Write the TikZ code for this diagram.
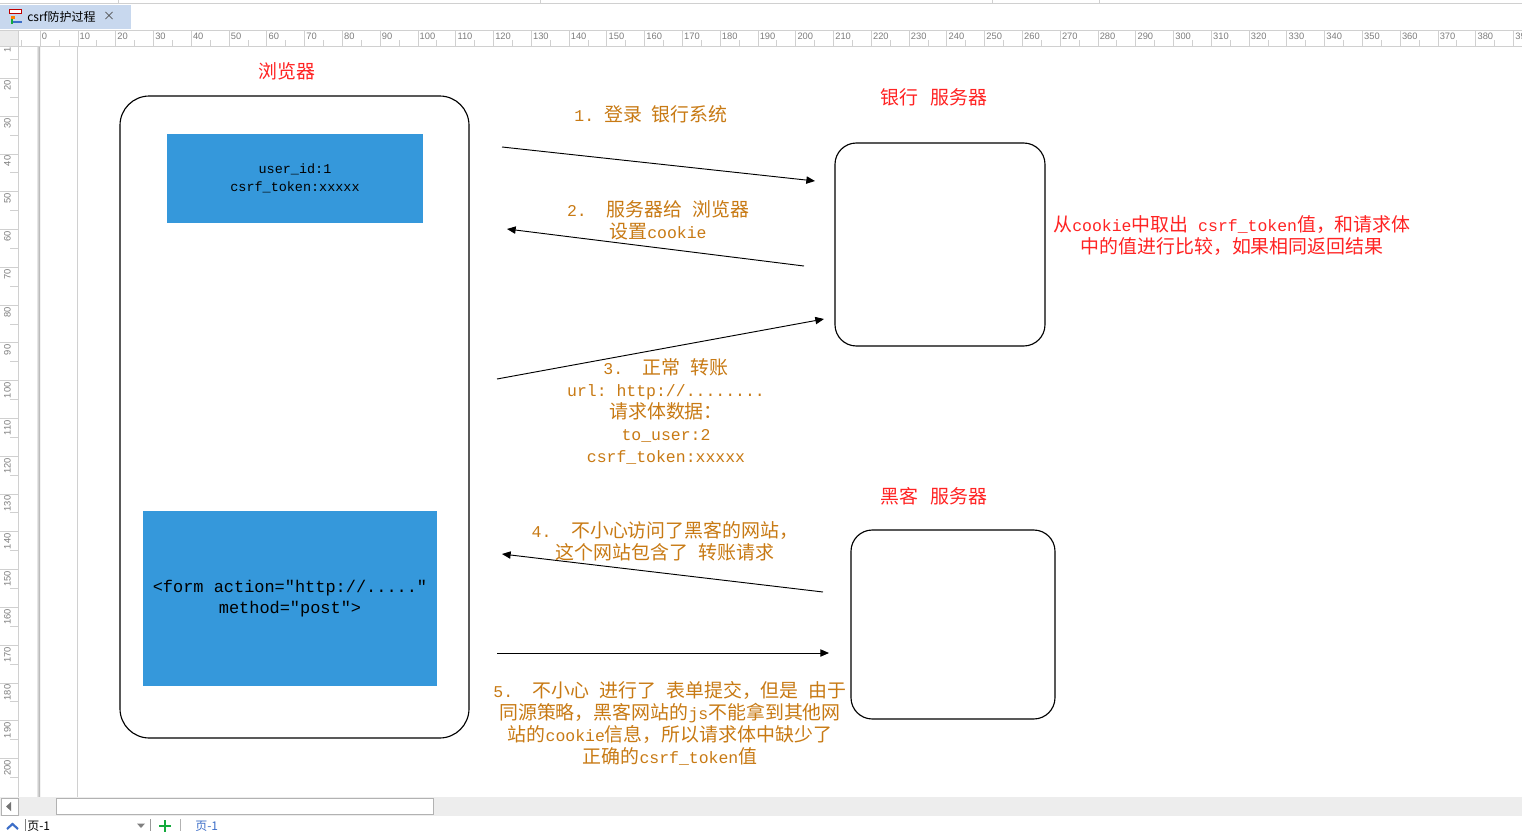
\documentclass[tikz,border=0pt]{standalone}
\usepackage{fontspec}
\setmainfont{Noto Sans CJK SC}
\newfontfamily\monof[Scale=0.87]{Liberation Mono}
\newfontfamily\uif{Liberation Sans}
\usetikzlibrary{arrows.meta}
\definecolor{lblred}{RGB}{255,35,35}
\definecolor{lblorg}{RGB}{200,122,20}
\definecolor{boxblue}{RGB}{53,152,219}
\definecolor{rulgray}{RGB}{208,208,208}
\definecolor{rultext}{RGB}{125,125,125}
\definecolor{tabblue}{RGB}{200,216,238}
\definecolor{uiblue}{RGB}{60,110,200}
\definecolor{uigreen}{RGB}{20,170,60}
\newcommand\lat[1]{{\monof #1}}
\tikzset{
  lbl/.style={font=\fontsize{14.2}{16.5}\selectfont, text=lblorg, align=center, inner sep=0pt},
  ttl/.style={font=\fontsize{14.2}{16.5}\selectfont, text=lblred, align=center, inner sep=0pt},
  panel/.style={draw=black, line width=0.85pt, fill=white},
  bluebox/.style={fill=boxblue, draw=none, align=center, inner sep=0pt},
  arr/.style={-{Triangle[length=6.5pt,width=5.5pt]}, line width=0.7pt, black},
  rulnum/.style={font=\uif\fontsize{7}{8}\selectfont, text=rultext, inner sep=0.5pt},
  uitext/.style={font=\fontsize{9}{10}\selectfont, inner sep=0pt},
}
\begin{document}
\begin{tikzpicture}[x=0.75pt,y=-0.75pt]
\useasboundingbox (0,0) rectangle (1522,832);
\fill[white] (0,0) rectangle (1522,832);

% ---- top strip and tab ----
\draw[rulgray] (0,3.5) -- (1522,3.5);
\foreach \sx in {118,540,992,1099} \draw[rulgray] (\sx,0) -- (\sx,3.5);
\fill[tabblue] (0,5) rectangle (131,29);
\fill[red!75!black] (9,9) rectangle (22,14);
\fill[white] (10,10) rectangle (21,13);
\fill[orange] (11,16) rectangle (15,19);
\fill[uigreen] (11,19) rectangle (13,24);
\fill[uiblue] (13,21) rectangle (22,23);
\node[uitext, anchor=west] (tabname) at (27,17) {csrf防护过程};
\node[uitext, text=black!70, anchor=center] (tabclose) at (109,16) {×};

% ---- top ruler ----
\draw[rulgray] (0,30.5) -- (1522,30.5);
\draw[rulgray] (0,46.5) -- (1522,46.5);
\fill[black!8] (0,31) rectangle (18,46);
\draw[rulgray] (18.5,31) -- (18.5,46);
\draw[rulgray] (21,40) -- (21,46);
\foreach \k in {0,...,39} {
  \pgfmathsetmacro\xx{40+37.78*\k}
  \pgfmathsetmacro\xm{40+37.78*\k+18.89}
  \pgfmathtruncatemacro\nn{10*\k}
  \draw[rulgray] (\xx,31) -- (\xx,46);
  \draw[rulgray] (\xm,40) -- (\xm,46);
  \node[rulnum, anchor=west] (tn\k) at (\xx+1,36.5) {\nn};
}

% ---- left ruler ----
\draw[rulgray] (18.5,46) -- (18.5,797);
\begin{scope}
\clip (0,47) rectangle (18,797);
\foreach \k in {1,...,20} {
  \pgfmathsetmacro\yy{40.5+37.78*(\k-1)}
  \pgfmathsetmacro\ym{40.5+37.78*(\k-1)+18.89}
  \pgfmathtruncatemacro\nn{10*\k}
  \draw[rulgray] (0,\yy) -- (18,\yy);
  \draw[rulgray] (10,\ym) -- (18,\ym);
  \node[rulnum, rotate=90, anchor=east] (ln\k) at (7.5,\yy+1) {\nn};
}
\end{scope}
\shade[left color=black!10, right color=black!35] (37,47) rectangle (40,797);
\draw[rulgray] (77.5,47) -- (77.5,797);

% ---- bottom scrollbar and status bar ----
\fill[black!7] (0,797) rectangle (1522,816);
\draw[black!30, fill=white] (1.5,798.5) rectangle (18.5,815);
\fill[black!55] (6,806.5) -- (11,802) -- (11,811) -- cycle;
\draw[black!30, fill=white] (56.5,798.5) rectangle (433.5,814.5);
\draw[uiblue, line width=1.6pt] (7,829) -- (12.5,824) -- (18,829);
\draw[black!50] (25.5,819) -- (25.5,831);
\node[uitext, anchor=west] (pg1) at (27,826) {页-1};
\fill[black!50] (137,823.5) -- (145,823.5) -- (141,828) -- cycle;
\draw[black!40] (150.5,819) -- (150.5,831);
\draw[uigreen, line width=2pt] (159,826) -- (171,826) (165,820) -- (165,832);
\draw[black!30] (180.5,819) -- (180.5,831);
\node[uitext, text=uiblue, anchor=west] (pg2) at (195,826) {页-1};

% ---- diagram ----
\node[ttl] (tbrowser) at (287,71) {浏览器};
\node[ttl] (tbank) at (934,97) {银行\hspace{0.65em}服务器};
\node[ttl] (thack) at (934,496) {黑客\hspace{0.65em}服务器};

\node[panel, rounded corners=22pt, minimum width=349*0.75pt, minimum height=642*0.75pt] (browser) at (294.5,417) {};
\node[panel, rounded corners=16pt, minimum width=210*0.75pt, minimum height=203*0.75pt] (bank) at (940,244.5) {};
\node[panel, rounded corners=16pt, minimum width=204*0.75pt, minimum height=189*0.75pt] (hacker) at (953,624.5) {};

\node[bluebox, minimum width=256*0.75pt, minimum height=89*0.75pt,
      font=\monof\fontsize{11.6}{13.5}\selectfont] (cookiebox) at (295,178.5)
      {user\_id:1\\csrf\_token:xxxxx};
\node[bluebox, minimum width=294*0.75pt, minimum height=175*0.75pt,
      font=\monof\fontsize{14.6}{16}\selectfont] (formbox) at (290,598.5)
      {<form action="http://....."\\method="post">};

\node[ttl] (note) at (1232,236)
  {从\lat{cookie}中取出\lat{\ csrf\_token}值，和请求体\\中的值进行比较，如果相同返回结果};

% arrows
\coordinate (a1s) at (502,147);  \coordinate (a1e) at (815,181);
\coordinate (a2s) at (804,266);  \coordinate (a2e) at (507,229);
\coordinate (a3s) at (497,379);  \coordinate (a3e) at (824,319);
\coordinate (a4s) at (823,592);  \coordinate (a4e) at (502,554);
\coordinate (a5s) at (497,653);  \coordinate (a5e) at (829,653);
\draw[arr] (a1s) -- (a1e);
\draw[arr] (a2s) -- (a2e);
\draw[arr] (a3s) -- (a3e);
\draw[arr] (a4s) -- (a4e);
\draw[arr] (a5s) -- (a5e);

\node[lbl] (l1) at (651,114) {\lat{1.\ }登录\lat{\ }银行系统};
\node[lbl] (l2) at (658,220) {\lat{2.\ \ }服务器给\lat{\ }浏览器\\设置\lat{cookie}};
\node[lbl] (l3) at (666,411.5) {\lat{3.\ \ }正常\lat{\ }转账\\\lat{url:\ http://........}\\请求体数据：\\\lat{to\_user:2}\\\lat{csrf\_token:xxxxx}};
\node[lbl] (l4) at (665,541) {\lat{4.\ \ }不小心访问了黑客的网站，\\这个网站包含了\lat{\ }转账请求};
\node[lbl] (l5) at (670,723) {\lat{5.\ \ }不小心\lat{\ }进行了\lat{\ }表单提交，但是\lat{\ }由于\\同源策略，黑客网站的\lat{js}不能拿到其他网\\站的\lat{cookie}信息，所以请求体中缺少了\\正确的\lat{csrf\_token}值};
\end{tikzpicture}
\end{document}
